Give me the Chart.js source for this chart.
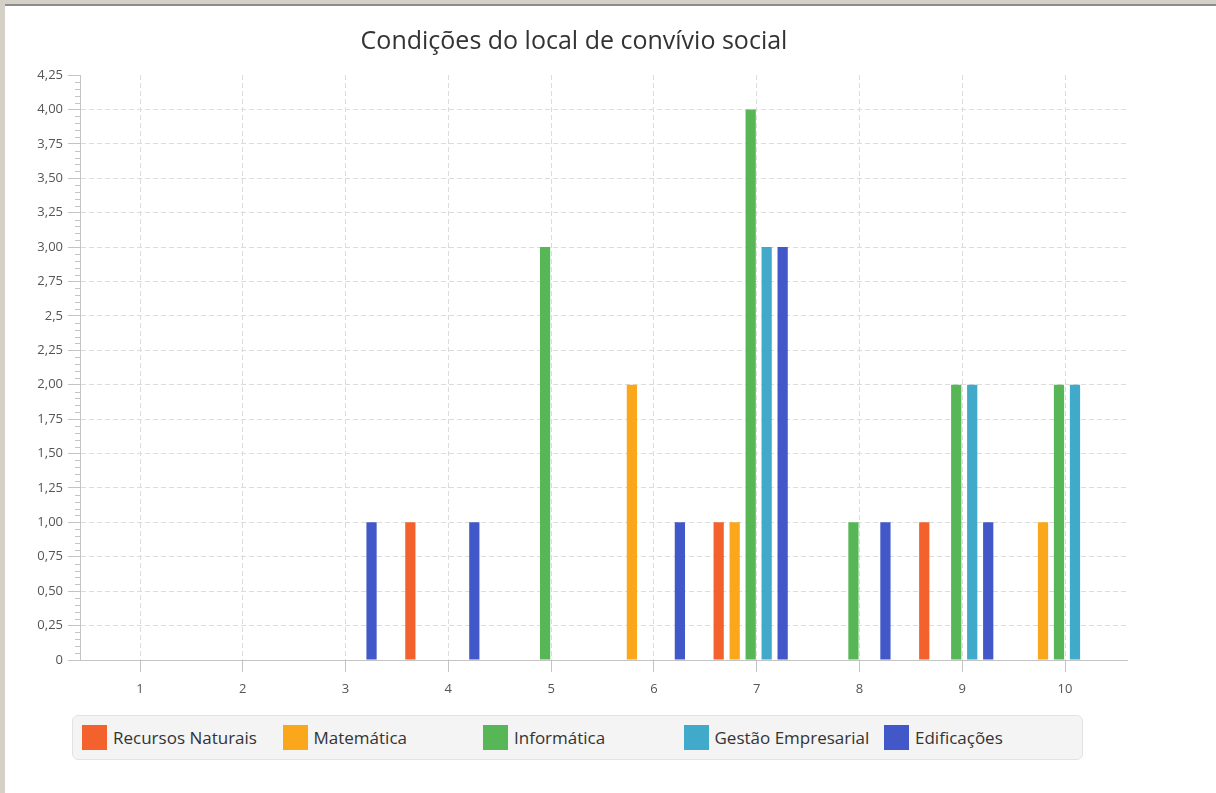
<!DOCTYPE html>
<html><head><meta charset="utf-8">
<script src="https://cdn.jsdelivr.net/npm/chart.js@4/dist/chart.umd.min.js"></script>
<style>
html,body{margin:0;padding:0;background:#fff;width:1216px;height:793px;overflow:hidden;}
#wrap{position:relative;width:1216px;height:793px;overflow:hidden;}
#c{position:absolute;left:21px;top:0;}
.frame{position:absolute;pointer-events:none;}
#legend{position:absolute;left:72px;top:715px;width:1009px;height:43px;background:#f4f4f4;border:1px solid #e3e3e3;border-radius:6px;}
.item{position:absolute;top:9px;height:25px;display:flex;align-items:center;font:17px "Open Sans",sans-serif;color:#333;white-space:nowrap;}
.sw{width:25px;height:25px;margin-right:6px;}
</style></head>
<body><div id="wrap"><canvas id="c" width="1195" height="793"></canvas>
<div class="frame" style="left:0;top:0;width:1216px;height:4px;background:#d4d0c8"></div>
<div class="frame" style="left:4px;top:4px;width:1212px;height:2px;background:#8c8c8c"></div>
<div class="frame" style="left:0;top:0;width:5px;height:793px;background:#d4d0c8"></div>
<div id="legend"></div></div>
<script>
const chartTitle = 'Condições do local de convívio social';
const categories = ['1','2','3','4','5','6','7','8','9','10'];
const seriesNames = ['Recursos Naturais','Matemática','Informática','Gestão Empresarial','Edificações'];
const recursosNaturais  = [null,null,null,1,null,null,1,null,1,null];
const matematica        = [null,null,null,null,null,2,1,null,null,1];
const informatica       = [null,null,null,null,3,null,4,1,2,2];
const gestaoEmpresarial = [null,null,null,null,null,null,3,null,2,2];
const edificacoes       = [null,null,1,1,null,1,3,1,1,null];
const yTickLabels = ['0','0,25','0,50','0,75','1,00','1,25','1,50','1,75','2,00','2,25','2,5','2,75','3,00','3,25','3,50','3,75','4,00','4,25'];
const seriesColors = ['#f3622d','#fba71b','#57b757','#41a9c9','#4258c9'];

const seriesValues = [recursosNaturais, matematica, informatica, gestaoEmpresarial, edificacoes];

// category axis placement (JavaFX-like margins)
function placeCategories(shiftPx){
  return function(scale){
    const W = 1047, span = 925, lead = 60 + shiftPx;
    const r = (categories.length - 1) * W / span;
    scale._valueRange = r;
    scale._startValue = -lead / W * r;
  };
}

const minorTicks = {
  id:'minorTicks',
  afterDraw(chart){
    const y = chart.scales.y, ctx = chart.ctx, x0 = chart.chartArea.left;
    ctx.save(); ctx.strokeStyle = '#c4c4c4'; ctx.lineWidth = 1;
    const n = Math.round(y.max / 0.05);
    for (let k = 0; k <= n; k++){
      if (k % 5 === 0) continue;
      const py = Math.round(y.getPixelForValue(k * 0.05)) + 0.5;
      ctx.beginPath(); ctx.moveTo(x0 - 5, py); ctx.lineTo(x0, py); ctx.stroke();
    }
    ctx.restore();
  }
};

const htmlLegend = {
  id:'htmlLegend',
  afterUpdate(chart){
    const box = document.getElementById('legend');
    box.innerHTML = '';
    chart.data.datasets.forEach((ds, i) => {
      const it = document.createElement('div'); it.className = 'item';
      it.style.left = (9 + i * 200.5) + 'px';
      const sw = document.createElement('div'); sw.className = 'sw'; sw.style.background = ds.backgroundColor;
      const t = document.createElement('span'); t.textContent = ds.label;
      it.appendChild(sw); it.appendChild(t); box.appendChild(it);
    });
  }
};

new Chart(document.getElementById('c'), {
  type:'bar',
  data:{
    labels: categories,
    datasets: seriesNames.map((name, i) => ({
      label: name, data: seriesValues[i], backgroundColor: seriesColors[i],
      borderWidth: 0, xAxisID: 'xb',
      categoryPercentage: 0.778, barPercentage: 0.64
    }))
  },
  options:{
    responsive:false, animation:false,
    layout:{padding:{left:0, right:89, top:0, bottom:83}},
    plugins:{
      legend:{display:false}, tooltip:{enabled:false},
      title:{display:true, text:chartTitle, color:'#333',
        font:{family:'Open Sans', size:25, weight:'normal'}, padding:{top:27, bottom:18}}
    },
    scales:{
      x:{
        type:'category', position:'bottom', offset:false,
        afterBuildTicks: placeCategories(0),
        afterFit(s){ s.height = 50; },
        grid:{offset:false, color:'#dcdcdc', tickLength:12, tickColor:'#c4c4c4', tickBorderDash:[1,0]},
        border:{color:'#c4c4c4', width:1, dash:[5,3]},
        ticks:{color:'#555', font:{family:'Open Sans', size:13}, padding:9, autoSkip:false, maxRotation:0}
      },
      xb:{
        type:'category', position:'bottom', display:false, offset:false,
        afterBuildTicks: placeCategories(-6)
      },
      y:{
        min:0, max:4.25,
        afterFit(s){ s.width = 59; },
        ticks:{stepSize:0.25, color:'#555', font:{family:'Open Sans', size:13}, padding:5,
          callback:(v, i) => yTickLabels[i]},
        grid:{color:(c) => (c.tick && (c.tick.value === 0 || c.tick.value >= 4.25)) ? 'rgba(0,0,0,0)' : '#dcdcdc',
          tickLength:12, tickColor:'#c4c4c4', tickBorderDash:[1,0]},
        border:{color:'#c4c4c4', width:1, dash:[5,3]}
      }
    }
  },
  plugins:[minorTicks, htmlLegend]
});
</script>
</body></html>
